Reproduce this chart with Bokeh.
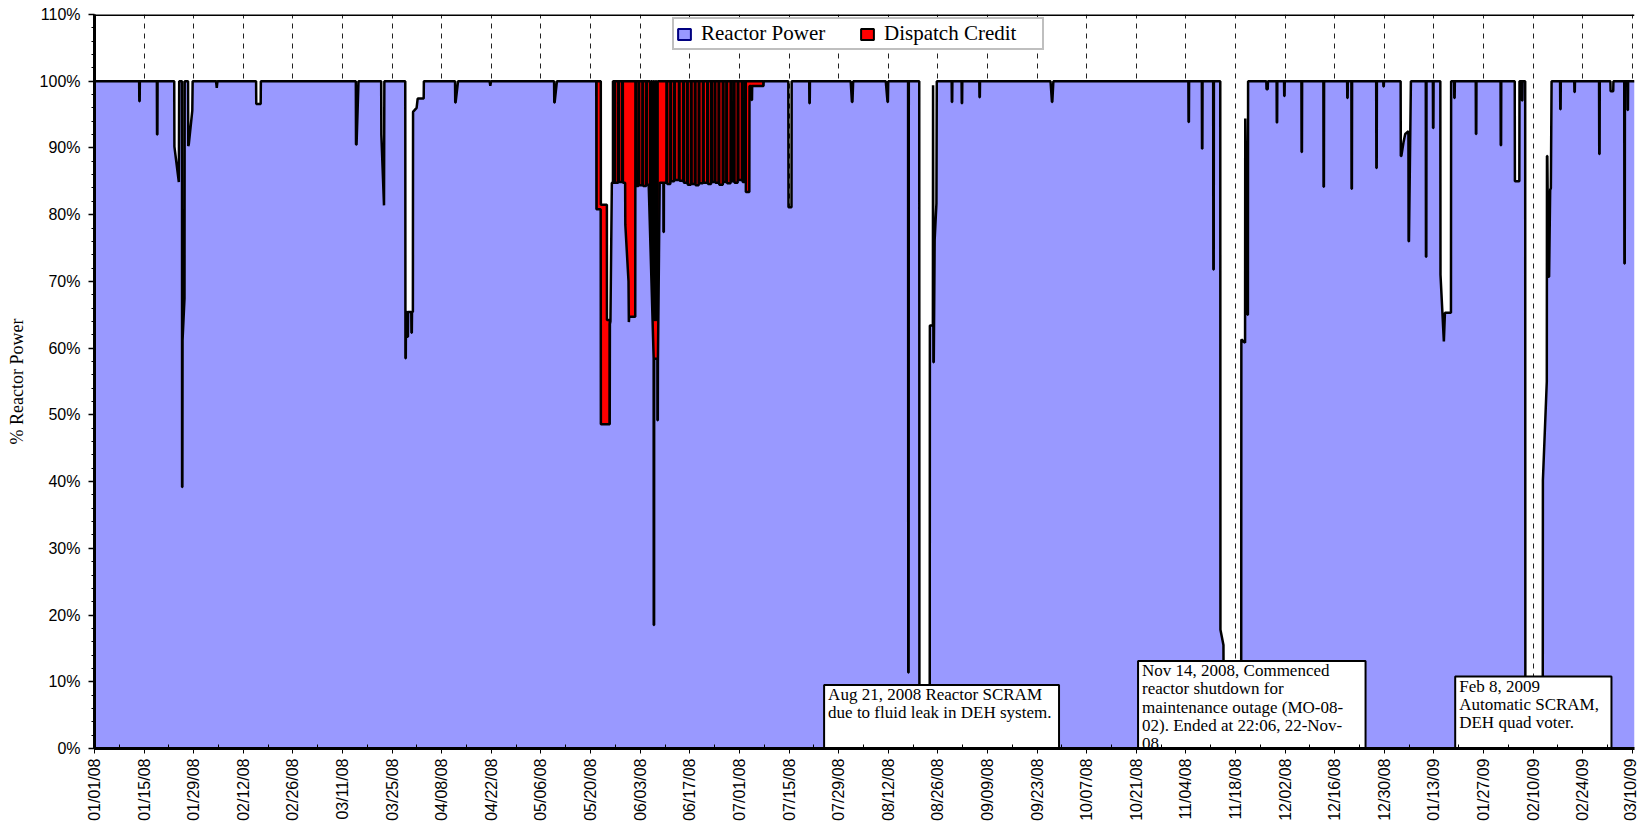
import numpy as np
from bokeh.plotting import figure
from bokeh.models import (FixedTicker, PrintfTickFormatter, Span, Legend, LegendItem, Range1d)
from bokeh.core.properties import value
from bokeh.embed import file_html
from bokeh.resources import INLINE

# ---------------- data (day 0 = 01/01/08) ----------------
tick_labels = ["01/01/08", "01/15/08", "01/29/08", "02/12/08", "02/26/08", "03/11/08", "03/25/08",
               "04/08/08", "04/22/08", "05/06/08", "05/20/08", "06/03/08", "06/17/08", "07/01/08",
               "07/15/08", "07/29/08", "08/12/08", "08/26/08", "09/09/08", "09/23/08", "10/07/08",
               "10/21/08", "11/04/08", "11/18/08", "12/02/08", "12/16/08", "12/30/08", "01/13/09",
               "01/27/09", "02/10/09", "02/24/09", "03/10/09"]

power_day = [
    0,
    12.6, 12.65, 12.75, 12.8,
    17.6, 17.65, 17.75, 17.8,
    22.5, 22.55, 23.8, 23.9,
    24.7, 24.72, 24.8, 24.85, 25.4, 25.45,
    26.4, 26.45, 26.6, 27.6, 27.7,
    34.3, 34.5, 34.7,
    45.6, 45.65, 46.9, 46.95,
    73.75, 73.8, 73.95, 74.5,
    80.9, 80.95, 81.7, 81.8,
    87.7, 87.75, 87.85, 87.9, 88.3, 88.35, 88.45, 88.5, 89.4, 89.45, 89.55, 89.6, 89.85, 89.9, 90.9, 91.2, 92.9, 92.95,
    101.75, 101.8, 101.9, 102.6,
    111.5, 111.7, 111.9,
    129.7, 129.75, 129.85, 130.5,
    141.6, 141.65, 142.85, 142.9, 145.4, 145.45, 145.6, 146.0,
    146.7, 146.72, 146.9, 146.92,
    147.8, 147.82, 148.0, 148.02,
    148.9, 148.92, 149.1, 149.12,
    149.75, 149.8, 150.7, 150.8, 150.9, 152.6, 152.65, 152.75, 152.8,
    153.5, 153.52, 153.7, 153.72,
    154.6, 154.62, 154.8, 154.82,
    155.7, 155.72, 155.9, 155.92,
    156.4, 157.8, 157.82, 157.92, 157.94, 158.85, 158.87, 158.97, 159.0, 159.5, 160.55, 160.57, 160.67, 160.7,
    161.4, 161.42, 161.6, 161.62,
    162.5, 162.52, 162.7, 162.72,
    163.6, 163.62, 163.8, 163.82,
    164.9, 164.92, 165.1, 165.12,
    166.1, 166.12, 166.3, 166.32,
    167.2, 167.22, 167.4, 167.42,
    168.3, 168.32, 168.5, 168.52,
    169.4, 169.42, 169.6, 169.62,
    170.5, 170.52, 170.7, 170.72,
    171.7, 171.72, 171.9, 171.92,
    172.9, 172.92, 173.1, 173.12,
    174.0, 174.02, 174.2, 174.22,
    175.0, 175.02, 175.2, 175.22,
    176.1, 176.12, 176.3, 176.32,
    177.3, 177.32, 177.5, 177.52,
    178.3, 178.32, 178.5, 178.52,
    179.5, 179.52, 179.7, 179.72,
    180.4, 180.42, 180.6, 180.62,
    181.5, 181.52, 181.7, 181.72,
    182.7, 182.72, 182.9, 182.92,
    183.6, 183.62, 183.8, 183.82,
    184.8, 184.85, 185.4, 185.45, 185.55, 185.6, 188.8, 188.85,
    195.8, 195.85, 196.7, 196.75,
    201.7, 201.75, 201.85, 201.9,
    213.4, 213.75, 213.9, 214.1,
    223.3, 223.8, 223.9, 224.0,
    229.6, 229.65, 229.75, 229.8,
    232.75, 232.8, 235.7, 235.75, 236.6, 236.65, 236.75, 236.85, 237.1, 237.6, 237.7,
    241.9, 241.95, 242.05, 242.1,
    244.7, 244.75, 244.85, 244.9,
    249.7, 249.75, 249.85, 249.9,
    269.8, 270.2, 270.3, 270.6,
    308.7, 308.75, 308.85, 308.9,
    312.5, 312.55, 312.65, 312.7,
    315.7, 315.75, 315.85, 315.9,
    317.7, 317.75, 318.6, 318.7, 323.6, 323.65, 324.7, 324.75, 325.4, 325.5, 325.55,
    330.7, 330.75, 331.1, 331.15,
    333.6, 333.65, 333.75, 333.8,
    335.7, 335.75, 335.85, 335.9,
    340.6, 340.65, 340.75, 340.8,
    346.8, 346.85, 346.95, 347.0,
    353.5, 353.55, 353.65, 353.7,
    354.7, 354.75, 354.85, 354.9,
    361.7, 361.75, 361.85, 361.9,
    363.7, 363.75, 363.85, 363.9,
    368.6, 368.65, 368.8, 369.4, 369.9, 370.8, 370.85, 370.95, 371.5,
    375.7, 375.75, 375.85, 375.9,
    377.7, 377.75, 377.85, 377.9,
    379.8, 379.85, 380.8, 381.1, 382.8, 382.85,
    383.7, 383.75, 383.85, 383.9,
    389.8, 389.85, 389.95, 390.0,
    396.8, 396.85, 396.95, 397.0,
    400.8, 400.85, 402.1, 402.15,
    402.8, 402.85, 402.95, 403.0,
    403.75, 403.8, 408.7, 408.75, 409.85, 409.9, 410.0, 410.3, 410.5, 410.8, 411.0, 411.2,
    413.6, 413.65, 413.75, 413.8,
    417.6, 417.65, 417.75, 417.8,
    424.6, 424.65, 424.75, 424.8,
    427.8, 427.85, 428.6, 428.65,
    431.7, 431.75, 431.85, 431.9,
    432.6, 432.65, 432.75, 432.8,
    434.6,
]

power_pct = [
    100,
    100, 97, 97, 100,
    100, 92, 92, 100,
    100, 90.2, 84.9, 100,
    100, 39.2, 39.2, 61.2, 67.5, 100,
    100, 90.3, 90.5, 95.6, 100,
    100, 99, 100,
    100, 96.6, 96.6, 100,
    100, 90.5, 90.5, 100,
    100, 92, 81.4, 100,
    100, 58.5, 58.5, 65.4, 65.4, 61.7, 61.7, 65.4, 65.4, 62.3, 62.3, 65.4, 65.4, 95.4, 96.0, 97.4, 97.4, 100,
    100, 96.8, 96.8, 100,
    100, 99.3, 100,
    100, 96.8, 96.8, 100,
    100, 80.8, 80.8, 48.6, 48.6, 63.6, 64.0, 84.8,
    84.8, 100, 100, 84.8,
    84.8, 100, 100, 84.9,
    84.9, 100, 100, 84.8,
    84.8, 78.5, 70.0, 63.9, 64.7, 64.7, 100, 100, 84.3,
    84.3, 100, 100, 84.4,
    84.4, 100, 100, 84.3,
    84.3, 100, 100, 84.5,
    84.5, 58.4, 18.5, 18.5, 58.4, 58.4, 49.2, 49.2, 58.0, 84.8, 84.8, 77.4, 77.4, 84.8,
    84.8, 100, 100, 84.6,
    84.6, 100, 100, 85.0,
    85.0, 100, 100, 85.2,
    85.2, 100, 100, 85.1,
    85.1, 100, 100, 84.8,
    84.8, 100, 100, 84.5,
    84.5, 100, 100, 84.6,
    84.6, 100, 100, 84.4,
    84.4, 100, 100, 84.7,
    84.7, 100, 100, 84.8,
    84.8, 100, 100, 84.6,
    84.6, 100, 100, 84.9,
    84.9, 100, 100, 84.8,
    84.8, 100, 100, 84.5,
    84.5, 100, 100, 84.9,
    84.9, 100, 100, 84.7,
    84.7, 100, 100, 85.0,
    85.0, 100, 100, 84.8,
    84.8, 100, 100, 85.2,
    85.2, 100, 100, 84.9,
    84.9, 100, 100, 83.4,
    83.4, 99.3, 99.3, 97.2, 97.2, 99.3, 99.3, 100,
    100, 81.1, 81.1, 100,
    100, 96.7, 96.7, 100,
    100, 96.9, 96.9, 100,
    100, 96.9, 96.9, 100,
    100, 11.4, 11.4, 100,
    100, 0, 0, 63.4, 63.4, 99.4, 57.9, 57.9, 76.2, 81.7, 100,
    100, 96.9, 96.9, 100,
    100, 96.7, 96.7, 100,
    100, 97.6, 97.6, 100,
    100, 96.9, 96.9, 100,
    100, 93.9, 93.9, 100,
    100, 89.9, 89.9, 100,
    100, 71.8, 71.8, 100,
    100, 17.8, 15.5, 0, 0, 61.3, 60.8, 94.4, 65.0, 65.0, 100,
    100, 98.8, 98.8, 100,
    100, 93.8, 93.8, 100,
    100, 97.8, 97.8, 100,
    100, 89.4, 89.4, 100,
    100, 84.2, 84.2, 100,
    100, 97.5, 97.5, 100,
    100, 83.9, 83.9, 100,
    100, 87.0, 87.0, 100,
    100, 99.2, 99.2, 100,
    100, 88.8, 88.8, 90.8, 92.1, 92.5, 76.0, 76.0, 100,
    100, 73.7, 73.7, 100,
    100, 93.0, 93.0, 100,
    100, 71.0, 61.0, 65.3, 65.3, 100,
    100, 97.5, 97.5, 100,
    100, 92.1, 92.1, 100,
    100, 90.4, 90.4, 100,
    100, 85.0, 85.0, 100,
    100, 97.1, 97.1, 100,
    100, 0, 0, 40.2, 55.0, 88.8, 88.8, 70.7, 70.7, 83.7, 84.0, 100,
    100, 95.8, 95.8, 100,
    100, 98.4, 98.4, 100,
    100, 89.1, 89.1, 100,
    100, 98.5, 98.5, 100,
    100, 72.7, 72.7, 100,
    100, 95.7, 95.7, 100,
    100,
]

# upper edge of the Dispatch Credit band (stacked on top of reactor power)
credit_day = [141.6, 141.62, 142.88, 142.9, 144.6, 144.62, 145.42, 145.45, 146.3, 146.32,
              156.8, 156.82, 157.1, 157.12, 157.4, 157.42, 157.7, 157.72, 158.0, 158.02,
              158.3, 158.32, 158.6, 158.62, 158.9, 158.92, 188.8, 188.82]
credit_top = [0, 100, 100, 81.5, 81.5, 64.2, 64.2, 0, 0, 100,
              100, 64.2, 64.2, 100, 100, 64.2, 64.2, 100, 100, 64.2,
              64.2, 100, 100, 64.2, 64.2, 100, 100, 0]

note_lines = [
    ["Aug 21, 2008 Reactor SCRAM", "due to fluid leak in DEH system."],
    ["Nov 14, 2008, Commenced", "reactor shutdown for", "maintenance outage (MO-08-",
     "02). Ended at 22:06, 22-Nov-", "08."],
    ["Feb 8, 2009", "Automatic SCRAM,", "DEH quad voter."],
]
note_left = [205.9, 294.5, 384.0]
note_right = [272.2, 358.7, 428.1]
note_top = [9.5, 13.1, 10.8]

assert len(power_day) == len(power_pct)
assert len(credit_day) == len(credit_top)

# ---------------- figure ----------------
p = figure(width=1638, height=824, x_range=Range1d(0, 434.6), y_range=Range1d(0, 110),
           output_backend="svg", toolbar_location=None,
           min_border_left=94, min_border_right=4, min_border_top=14, min_border_bottom=76)
p.background_fill_color = "white"
p.border_fill_color = "white"
p.outline_line_color = None

PURPLE = "#9999FF"
RED = "#FF0000"

p.varea(x=credit_day, y1=0, y2=credit_top, fill_color=RED)
p.line(credit_day, credit_top, line_color="black", line_width=2.5)
p.varea(x=power_day, y1=0, y2=power_pct, fill_color=PURPLE)
p.line(power_day, power_pct, line_color="black", line_width=2.5)

# annotation boxes
p.quad(left=note_left, right=note_right, top=note_top, bottom=[-3] * 3,
       fill_color="white", line_color="black", line_width=2)
tx, ty, tt = [], [], []
for lines, left, top in zip(note_lines, note_left, note_top):
    for i, s in enumerate(lines):
        tx.append(left)
        ty.append(top - 1.45 - i * 2.72)
        tt.append(s)
p.text(x=tx, y=ty, text=tt, x_offset=4, text_baseline="middle", text_align="left",
       text_font=value("Liberation Serif"), text_font_size="17px", text_color="black")

p.add_layout(Span(location=110, dimension="width", line_color="black", line_width=3))

# axes
tick_days = list(range(0, 435, 14))
minor_days = list(range(7, 435, 14))
p.xaxis.ticker = FixedTicker(ticks=tick_days, minor_ticks=minor_days)
p.xaxis.major_label_overrides = {d: lab for d, lab in zip(tick_days, tick_labels)}
p.xaxis.major_label_orientation = np.pi / 2
p.xaxis.major_label_text_font = "Liberation Sans"
p.xaxis.major_label_text_font_size = "16px"
p.xaxis.major_label_text_color = "black"
p.xaxis.major_label_standoff = 5
p.xaxis.major_tick_out = 5
p.xaxis.major_tick_in = 0
p.xaxis.minor_tick_in = 4
p.xaxis.minor_tick_out = 0
p.xaxis.axis_line_width = 3
p.xaxis.axis_line_color = "black"
p.xaxis.major_tick_line_color = "black"
p.xaxis.minor_tick_line_color = "black"

p.yaxis.ticker = FixedTicker(ticks=list(range(0, 111, 10)), minor_ticks=list(range(0, 111, 2)))
p.yaxis.formatter = PrintfTickFormatter(format="%d%%")
p.yaxis.major_label_text_font = "Liberation Sans"
p.yaxis.major_label_text_font_size = "16px"
p.yaxis.major_label_text_color = "black"
p.yaxis.major_label_standoff = 8
p.yaxis.major_tick_out = 6
p.yaxis.major_tick_in = 0
p.yaxis.minor_tick_out = 3
p.yaxis.minor_tick_in = 0
p.yaxis.axis_line_width = 3
p.yaxis.axis_line_color = "black"
p.yaxis.major_tick_line_color = "black"
p.yaxis.major_tick_line_width = 1.5
p.yaxis.minor_tick_line_color = "black"
p.yaxis.axis_label = "% Reactor Power"
p.yaxis.axis_label_text_font = "Liberation Serif"
p.yaxis.axis_label_text_font_style = "normal"
p.yaxis.axis_label_text_font_size = "18px"
p.yaxis.axis_label_text_color = "black"
p.yaxis.axis_label_standoff = 10

p.xgrid.grid_line_color = "#222222"
p.xgrid.grid_line_dash = "5 5"
p.xgrid.grid_line_width = 1
p.ygrid.grid_line_color = None

# legend (swatch renderers sit outside the visible range)
leg1 = p.quad(left=[-20], right=[-19], top=[-20], bottom=[-21],
              fill_color=PURPLE, line_color="#000080", line_width=2)
leg2 = p.quad(left=[-20], right=[-19], top=[-20], bottom=[-21],
              fill_color=RED, line_color="black", line_width=2)
legend = Legend(items=[LegendItem(label="Reactor Power", renderers=[leg1]),
                       LegendItem(label="Dispatch Credit", renderers=[leg2])],
                location=(578, 698), orientation="horizontal",
                label_text_font="Liberation Serif", label_text_font_size="21px",
                label_text_color="black",
                glyph_width=16, glyph_height=14, label_standoff=9, label_width=156,
                spacing=2, padding=2, margin=0,
                border_line_color="#808080", border_line_width=2,
                background_fill_color="white", background_fill_alpha=1.0)
p.add_layout(legend)

open("out.html", "w").write(file_html(p, INLINE))
